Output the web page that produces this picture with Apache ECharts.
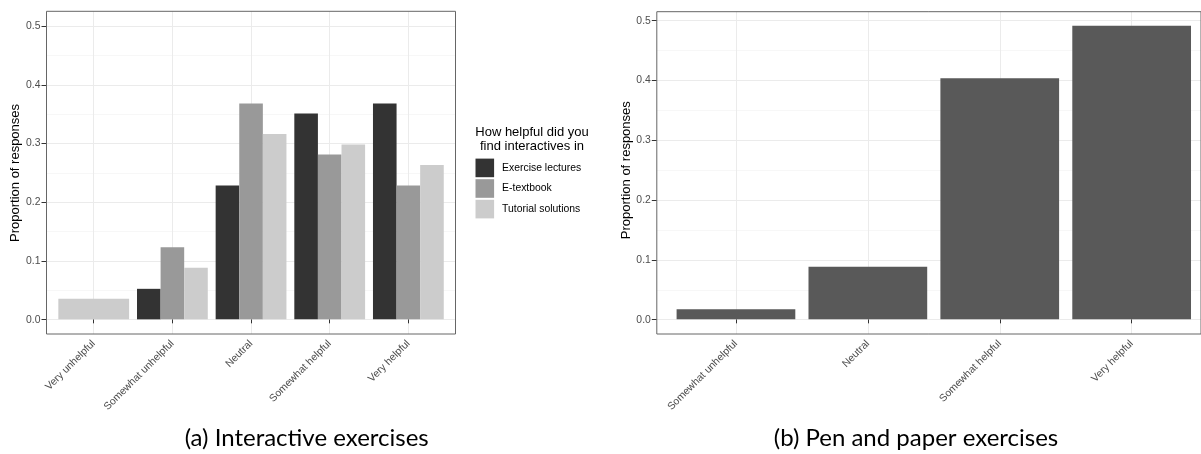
<!DOCTYPE html>
<html><head><meta charset="utf-8">
<script src="https://cdn.jsdelivr.net/npm/echarts@6/dist/echarts.min.js"></script>
<style>html,body{margin:0;padding:0;background:#fff}#c{width:1201px;height:454px}</style>
</head><body><div id="c"></div>
<script>
// ---- data ----
const categoriesA = ['Very unhelpful', 'Somewhat unhelpful', 'Neutral', 'Somewhat helpful', 'Very helpful'];
const exerciseLectures = [null, 0.052, 0.228, 0.351, 0.368];
const eTextbook = [null, 0.123, 0.368, 0.281, 0.228];
const tutorialSolutions = [0.035, 0.088, 0.316, 0.298, 0.263];
const seriesNamesA = ['Exercise lectures', 'E-textbook', 'Tutorial solutions'];
const categoriesB = ['Somewhat unhelpful', 'Neutral', 'Somewhat helpful', 'Very helpful'];
const penAndPaper = [0.017, 0.088, 0.403, 0.491];
const yTickValues = [0, 0.1, 0.2, 0.3, 0.4, 0.5];
const legendTitle = 'How helpful did you\nfind interactives in';
const captionA = '(a) Interactive exercises';
const captionB = '(b) Pen and paper exercises';
const yTitle = 'Proportion of responses';

// ---- styling ----
const coloursA = ['#333333', '#999999', '#cccccc'];
const colourB = '#595959';
const FONT = 'Liberation Sans, Arial, sans-serif';
const tickText = { fontFamily: FONT, fontSize: 10.4, color: '#4d4d4d' };

// ggplot dodge: a category with a single group gets the full width
const groupsA = [exerciseLectures, eTextbook, tutorialSolutions];
const singleA = categoriesA.map((_, i) => groupsA.filter(g => g[i] != null).length === 1);
const dodgedA = groupsA.map(g => g.map((v, i) => singleA[i] ? null : v));
const fullA = categoriesA.map((_, i) => {
  if (!singleA[i]) return null;
  const k = groupsA.findIndex(g => g[i] != null);
  return { value: groupsA[k][i], itemStyle: { color: coloursA[k] } };
});

const hiddenVal = (gi, extra) => Object.assign({ type: 'value', gridIndex: gi, show: false, min: 0, max: 1 }, extra || {});

const xCat = (gi, data) => ({
  type: 'category', gridIndex: gi, data: data,
  axisLine: { show: false },
  axisTick: { show: true, alignWithLabel: true, length: 4, lineStyle: { color: '#333', width: 1 } },
  splitLine: { show: true, alignWithLabel: true, lineStyle: { color: '#ebebeb', width: 1 } },
  axisLabel: Object.assign({ rotate: 45, interval: 0, margin: 8 }, tickText)
});
const yVis = (gi) => ({
  type: 'value', gridIndex: gi, min: 0, max: 0.5, interval: 0.1,
  axisLine: { show: false },
  axisTick: { show: true, length: 5, lineStyle: { color: '#333', width: 1 } },
  axisLabel: Object.assign({ margin: 6, formatter: v => v.toFixed(1),
    customValues: yTickValues }, tickText),
  splitLine: { show: true, lineStyle: { color: '#ebebeb', width: 1 } },
  minorTick: { show: false, splitNumber: 2 },
  minorSplitLine: { show: true, lineStyle: { color: '#f3f3f3', width: 0.7 } },
  name: yTitle, nameLocation: 'middle', nameGap: 23,
  nameTextStyle: { fontFamily: FONT, fontSize: 13, color: '#000' }
});

const option = {
  animation: false,
  backgroundColor: '#fff',
  grid: [
    // panel (a)
    { left: 46.5, top: 11.3, width: 409, height: 322.7, show: true, borderColor: '#666', borderWidth: 1, backgroundColor: 'transparent', z: 5 },
    { left: 54.4, top: 11.3, width: 393.3, height: 322.7 },
    { left: 46.5, top: 26.2, width: 409, height: 293.5 },
    // panel (b)
    { left: 656.8, top: 11.7, right: -10, height: 322.3, show: true, borderColor: '#666', borderWidth: 1, backgroundColor: 'transparent', z: 5 },
    { left: 670.0, top: 11.7, width: 527.6, height: 322.3 },
    { left: 656.8, top: 20.7, right: -10, height: 299 }
  ],
  xAxis: [
    hiddenVal(0),
    xCat(1, categoriesA),
    { type: 'category', gridIndex: 1, data: categoriesA, show: false },
    hiddenVal(2),
    hiddenVal(3),
    xCat(4, categoriesB),
    hiddenVal(5)
  ],
  yAxis: [
    hiddenVal(0),
    hiddenVal(1, { min: -0.025, max: 0.525 }),
    yVis(2),
    hiddenVal(3),
    hiddenVal(4, { min: -0.0245, max: 0.5145 }),
    yVis(5)
  ],
  legend: {
    data: seriesNamesA, orient: 'vertical', left: 475.5, top: 158.6,
    itemWidth: 18.6, itemHeight: 18.6, itemGap: 2, icon: 'rect', padding: 0,
    selectedMode: false,
    textStyle: { fontFamily: FONT, fontSize: 10.4, color: '#000', padding: [0, 0, 0, 3] }
  },
  title: [
    { text: legendTitle, left: 532, top: 125, textAlign: 'center', padding: 0,
      textStyle: { fontFamily: FONT, fontSize: 13, fontWeight: 'normal', color: '#000', lineHeight: 14.5 } },
    { text: captionA, left: 306.7, top: 424, textAlign: 'center', padding: 0,
      textStyle: { fontFamily: 'Lato', fontSize: 24, fontWeight: 'normal', color: '#000', lineHeight: 28 } },
    { text: captionB, left: 916, top: 424, textAlign: 'center', padding: 0,
      textStyle: { fontFamily: 'Lato', fontSize: 24, fontWeight: 'normal', color: '#000', lineHeight: 28 } }
  ],
  series: [
    ...seriesNamesA.map((name, k) => ({
      type: 'bar', name: name, xAxisIndex: 1, yAxisIndex: 1,
      data: dodgedA[k], barGap: '0%', barCategoryGap: '10%',
      itemStyle: { color: coloursA[k] }, emphasis: { disabled: true }
    })),
    { type: 'bar', name: 'single group', xAxisIndex: 2, yAxisIndex: 1,
      data: fullA, barWidth: '90%', emphasis: { disabled: true } },
    { type: 'bar', name: 'Pen and paper', xAxisIndex: 5, yAxisIndex: 4,
      data: penAndPaper, barCategoryGap: '10%',
      itemStyle: { color: colourB }, emphasis: { disabled: true } }
  ]
};
echarts.init(document.getElementById('c'), null, { renderer: 'canvas' }).setOption(option);
</script>
</body></html>
